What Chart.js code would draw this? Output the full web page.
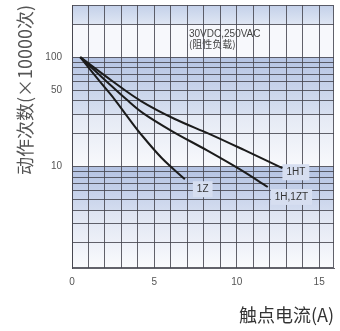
<!DOCTYPE html>
<html><head><meta charset="utf-8">
<script src="https://cdn.jsdelivr.net/npm/chart.js@4"></script>
<style>html,body{margin:0;padding:0;background:#fff}#wrap{width:340px;height:331px;position:relative}</style>
</head><body><div id="wrap"><canvas id="c"></canvas></div>
<script>
// ---- data ----
const seriesNames = ['1HT', '1H,1ZT', '1Z'];
const xHT   = [0.5, 2.44, 4.19, 6.24, 8.36, 10.47, 12.77];
const yHT   = [100, 60.6, 39.7, 27.2, 19.8, 14.1, 9.65];
const xH1ZT = [0.5, 2.13, 3.28, 4.31, 6.06, 8.17, 10.17, 11.88];
const yH1ZT = [100, 59.4, 41.4, 30.8, 21.1, 14.1, 9.45, 6.5];
const xZ    = [0.5, 1.71, 2.57, 3.34, 4.13, 5.46, 6.85];
const yZ    = [100, 59.4, 41.4, 28.9, 20.2, 11.9, 7.65];
const xGridValues = [0,1,2,3,4,5,6,7,8,9,10,11,12,13,14,15];
const xTickLabels = [0, 5, 10, 15];
const yTickLabels = [10, 50, 100];
const yGridValues = [2,3,4,5,6,7,8,9,10,20,30,40,50,60,70,80,90,100,200];
const noteLines = ['30VDC,250VAC', '(阻性负载)'];
const noteX = [7.1, 7.1];
const noteY = [162, 132];
const xTitle = '触点电流(A)';
const yTitle = '动作次数(×10000次)';

// ---- style ----
const bands = [
  {from:300, to:200, c1:'#c3d0e9', c2:'#dfe6f3'},
  {from:200, to:100, c1:'#f7f8fc', c2:'#f7f8fc'},
  {from:100, to:30,  c1:'#b5c4e3', c2:'#d8e0f0'},
  {from:30,  to:10,  c1:'#e4e9f4', c2:'#f8f9fc'},
  {from:10,  to:4,   c1:'#b3c2e2', c2:'#d3dcef'},
  {from:4,   to:1.18,c1:'#dde3f1', c2:'#fafbfd'}
];
const labelOffsets = [[4,4],[7,10],[12,10]];
const gridColor = 'rgba(70,70,80,0.85)';

const mk = (xs, ys) => xs.map((x, i) => ({x: x, y: ys[i]}));

const bgPlugin = {
  id: 'bg',
  beforeDraw(chart) {
    const {ctx, chartArea: a, scales: {y}} = chart;
    ctx.save();
    bands.forEach(b => {
      const y1 = y.getPixelForValue(b.from), y2 = y.getPixelForValue(b.to);
      const g = ctx.createLinearGradient(0, y1, 0, y2);
      g.addColorStop(0, b.c1); g.addColorStop(1, b.c2);
      ctx.fillStyle = g;
      ctx.fillRect(a.left, y1, a.right - a.left, y2 - y1);
    });
    ctx.restore();
  },
  beforeDatasetsDraw(chart) {
    const {ctx, chartArea: a} = chart;
    ctx.save();
    ctx.strokeStyle = gridColor; ctx.lineWidth = 1;
    ctx.strokeRect(a.left + 0.5, a.top + 0.5, a.right - a.left - 1, a.bottom - a.top - 1);
    ctx.font = '10px "Liberation Sans", Arial, sans-serif';
    chart.data.datasets.forEach((ds, i) => {
      const pts = chart.getDatasetMeta(i).data;
      const p = pts[pts.length - 1];
      const tx = p.x + labelOffsets[i][0], ty = p.y + labelOffsets[i][1];
      const w = ctx.measureText(ds.label).width;
      ctx.fillStyle = '#d6def0';
      ctx.fillRect(tx - 4, ty - 8, w + 8, 16);
    });
    ctx.restore();
  },
  afterDatasetsDraw(chart) {
    const {ctx, scales: {x, y}} = chart;
    ctx.save();
    ctx.fillStyle = '#333';
    ctx.textBaseline = 'middle';
    ctx.textAlign = 'left';
    ctx.font = '10px "Liberation Sans", Arial, sans-serif';
    chart.data.datasets.forEach((ds, i) => {
      const pts = chart.getDatasetMeta(i).data;
      const p = pts[pts.length - 1];
      ctx.fillText(ds.label, p.x + labelOffsets[i][0], p.y + labelOffsets[i][1]);
    });
    ctx.fillStyle = '#444';
    noteLines.forEach((t, i) => {
      ctx.font = i === 0 ? '10px "Liberation Sans", Arial, sans-serif' : '10px "Noto Sans CJK SC", sans-serif';
      ctx.fillText(t, x.getPixelForValue(noteX[i]), y.getPixelForValue(noteY[i]));
    });
    ctx.restore();
  }
};

const lineStyle = {borderColor:'#1b1b1b', borderWidth:2, pointRadius:0, fill:false, tension:0.35};

new Chart(document.getElementById('c'), {
  type: 'line',
  data: {
    datasets: [
      Object.assign({label: seriesNames[0], data: mk(xHT, yHT)}, lineStyle),
      Object.assign({label: seriesNames[1], data: mk(xH1ZT, yH1ZT)}, lineStyle),
      Object.assign({label: seriesNames[2], data: mk(xZ, yZ)}, lineStyle)
    ]
  },
  options: {
    responsive: true,
    maintainAspectRatio: false,
    animation: false,
    layout: {padding: {top: 5, right: 6, left: 0, bottom: 0}},
    plugins: {legend: {display: false}, tooltip: {enabled: false}},
    scales: {
      x: {
        type: 'linear', min: 0, max: 15.9,
        afterFit(s) { s.height = 63; s.paddingLeft = 0; s.paddingRight = 0; },
        afterBuildTicks(s) { s.ticks = xGridValues.map(v => ({value: v})); },
        grid: {color: gridColor, lineWidth: 1, drawTicks: false},
        border: {color: gridColor},
        ticks: {
          autoSkip: false, maxRotation: 0, padding: 8,
          color: '#555', font: {family: '"Liberation Sans", Arial, sans-serif', size: 10},
          callback: v => xTickLabels.includes(v) ? String(v) : ''
        },
        title: {display: true, text: xTitle, align: 'end', color: '#333',
          font: {family: '"Noto Sans CJK SC", sans-serif', size: 18}, padding: {top: 0, bottom: 5}}
      },
      y: {
        type: 'logarithmic', min: 1.18, max: 300,
        afterFit(s) { s.width = 72; s.paddingTop = 0; s.paddingBottom = 0; },
        afterBuildTicks(s) { s.ticks = yGridValues.map(v => ({value: v})); },
        grid: {color: gridColor, lineWidth: 1, drawTicks: false},
        border: {color: gridColor},
        ticks: {
          autoSkip: false, padding: 10,
          color: '#555', font: {family: '"Liberation Sans", Arial, sans-serif', size: 10},
          callback: v => yTickLabels.includes(v) ? String(v) : ''
        },
        title: {display: true, text: yTitle, align: 'end', color: '#555',
          font: {family: '"Noto Sans CJK SC", sans-serif', size: 18}, padding: {top: 14, bottom: 0}}
      }
    }
  },
  plugins: [bgPlugin]
});
</script>
</body></html>
